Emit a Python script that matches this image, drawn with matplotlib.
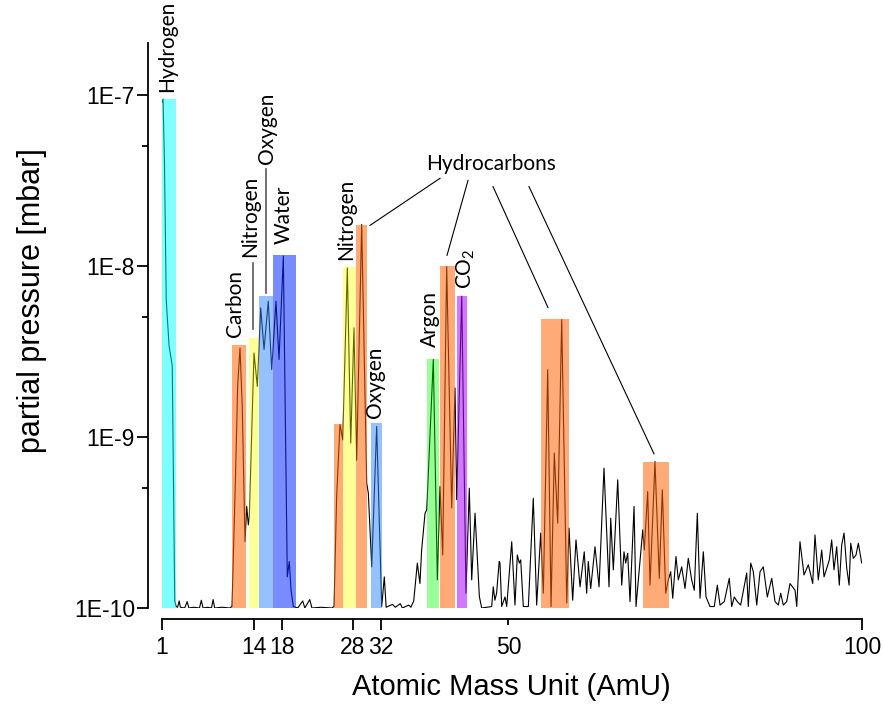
import numpy as np
import matplotlib
matplotlib.use('Agg')
import matplotlib.pyplot as plt
from matplotlib.colors import to_rgba
from matplotlib.ticker import FixedLocator, NullFormatter

# mass spectrum
amu = [1.0, 1.15, 1.35, 1.6, 2.0, 2.45, 2.8, 3.0,
       3.2, 3.43, 3.6, 4.2, 4.56, 4.8, 5.5, 6.3, 6.56, 6.8, 7.5, 8.0, 8.23, 8.45, 9.5, 10.6,
       10.9, 11.4, 11.7, 12.03, 12.35, 12.74, 12.98, 13.21, 13.35, 14.01, 14.48, 14.96,
       15.43, 16.03, 16.51, 17.12, 17.55, 18.16, 18.72, 19.0, 19.25, 19.57,
       20.2, 20.9, 21.2, 21.9, 22.2, 23.5, 25.0,
       25.33, 25.7, 26.17, 26.56, 27.21, 27.69, 28.15, 28.53, 29.24, 29.95, 30.18, 30.66,
       31.36, 32.07, 32.44, 32.7, 33.6, 34.0, 34.7, 35.0, 35.9, 36.2, 36.6,
       37.11, 37.48, 37.72, 38.2, 38.44, 39.37, 39.94, 40.32, 40.7, 41.26, 41.97, 42.44,
       42.68, 43.39, 43.99, 44.46, 44.8, 45.27, 45.88, 46.21, 47.63, 47.85, 48.08, 48.32,
       48.69, 48.8, 49.04, 49.51, 49.75, 50.46, 50.92, 51.25, 51.53, 51.73, 52.1, 52.81,
       53.51, 53.99, 54.56, 54.93, 55.55, 56.02, 56.48, 56.96, 57.53, 58.24, 58.56, 59.08,
       59.55, 60.12, 60.72, 61.06, 61.29, 61.63, 62.24, 62.81, 63.51, 64.22, 64.46, 64.83,
       65.45, 66.02, 66.34, 66.58, 66.86, 67.19, 67.76, 68.04, 68.99, 69.21, 69.69, 70.02,
       70.72, 71.33, 71.76, 72.24, 72.61, 72.94, 73.23, 73.69, 74.02, 74.5, 74.97, 75.43,
       75.91, 76.28, 76.71, 77.09, 77.56, 77.94, 78.5, 79.11, 79.54, 79.92, 80.52, 81.23,
       81.57, 81.94, 82.36, 82.84, 83.69, 83.92, 84.26, 84.63, 85.11, 85.58, 86.04, 86.61,
       87.23, 87.7, 88.16, 88.5, 88.87, 89.35, 89.82, 90.53, 90.77, 91.23, 91.8, 92.41,
       93.03, 93.35, 93.82, 94.3, 94.63, 95.01, 95.38, 95.71, 96.04, 96.42, 96.79, 97.13,
       97.46, 97.84, 98.17, 98.41, 98.77, 99.15, 99.48, 99.96]
pressure = [9.0e-8, 9.4e-8, 4.0e-8, 6.3e-9, 3.4e-9, 2.6e-9, 1.1e-10, 1.02e-10,
            1.01e-10, 1.10e-10, 1.01e-10, 1.0e-10, 1.09e-10, 1.0e-10, 1.01e-10, 1.0e-10, 1.11e-10,
            1.0e-10, 1.01e-10, 1.0e-10, 1.12e-10, 1.0e-10, 1.01e-10, 1.0e-10,
            1.02e-10, 6.0e-10, 2.0e-9, 3.3e-9, 1.5e-9, 2.44e-10, 3.92e-10, 3.06e-10, 3.42e-10,
            3.09e-9, 1.97e-9, 5.67e-9,
            3.24e-9, 6.19e-9, 2.47e-9, 6.19e-9, 2.83e-9, 1.14e-8, 1.52e-10, 1.87e-10, 1.27e-10,
            1.02e-10,
            1.0e-10, 1.1e-10, 1.0e-10, 1.12e-10, 1.0e-10, 1.01e-10, 1.0e-10,
            1.02e-10, 4.48e-10, 1.18e-9, 9.6e-10, 9.7e-9, 9.2e-10, 4.34e-9, 7.3e-10, 1.74e-8,
            5.37e-10, 4.69e-10, 1.74e-10,
            1.15e-9, 1.02e-10, 1.52e-10, 1.01e-10, 1.05e-10, 1.01e-10, 1.06e-10, 1.0e-10,
            1.04e-10, 1.01e-10, 1.1e-10,
            1.83e-10, 1.39e-10, 2.18e-10, 3.58e-10, 3.74e-10, 2.83e-9, 1.46e-10, 5.13e-10,
            2.04e-10, 9.9e-9, 3.84e-10, 1.93e-9,
            4.29e-10, 6.64e-9, 1.22e-10, 5.01e-10, 1.46e-10, 3.58e-10, 1.17e-10, 1.0e-10,
            1.02e-10, 1.33e-10, 1.11e-10, 1.22e-10,
            1.87e-10, 1.83e-10, 1.02e-10, 1.16e-10, 1.02e-10, 2.44e-10, 1.04e-10, 2.04e-10,
            1.83e-10, 1.91e-10, 1.02e-10, 1.02e-10,
            4.38e-10, 1.04e-10, 2.74e-10, 1.22e-10, 2.47e-9, 1.02e-10, 8.04e-10, 3.13e-10,
            4.84e-9, 1.07e-10, 2.93e-10, 1.11e-10,
            2.5e-10, 1.33e-10, 2.13e-10, 1.22e-10, 1.87e-10, 1.3e-10, 2.28e-10, 1.33e-10,
            6.57e-10, 1.33e-10, 3.35e-10, 1.67e-10,
            5.61e-10, 1.36e-10, 2.13e-10, 1.83e-10, 2.09e-10, 1.09e-10, 3.92e-10, 1.02e-10,
            2.86e-10, 2.18e-10, 4.79e-10, 1.36e-10,
            7.18e-10, 1.49e-10, 4.9e-10, 1.22e-10, 1.46e-10, 1.63e-10, 1.14e-10, 2.0e-10,
            1.46e-10, 1.74e-10, 1.3e-10, 1.95e-10,
            1.46e-10, 1.27e-10, 3.58e-10, 1.14e-10, 2.13e-10, 1.16e-10, 1.02e-10, 1.02e-10,
            1.36e-10, 1.04e-10, 1.09e-10, 1.49e-10,
            1.02e-10, 1.16e-10, 1.09e-10, 1.04e-10, 1.6e-10, 1.02e-10, 1.83e-10, 1.63e-10,
            1.04e-10, 1.63e-10, 1.74e-10, 1.16e-10,
            1.49e-10, 1.09e-10, 1.04e-10, 1.22e-10, 1.04e-10, 1.09e-10, 1.39e-10, 1.27e-10,
            1.02e-10, 2.44e-10, 1.56e-10, 1.79e-10,
            1.39e-10, 2.67e-10, 1.46e-10, 2.18e-10, 1.52e-10, 1.71e-10, 1.91e-10, 2.5e-10,
            1.67e-10, 2.28e-10, 1.36e-10, 2.34e-10,
            2.74e-10, 1.71e-10, 1.36e-10, 2.39e-10, 1.95e-10, 2.04e-10, 2.39e-10, 1.83e-10]

# highlighted peaks
bar_left = [1.0, 10.9, 13.35, 14.68, 16.66, 25.33, 26.56, 28.39, 30.56, 38.44, 40.36, 42.72, 54.6, 68.99]
bar_right = [3.0, 12.88, 14.68, 16.66, 19.91, 26.56, 28.39, 29.95, 32.07, 40.18, 42.44, 44.14, 58.56, 72.66]
bar_top = [9.4e-8, 3.46e-9, 3.8e-9, 6.64e-9, 1.15e-8, 1.19e-9, 9.8e-9, 1.74e-8, 1.21e-9,
           2.86e-9, 9.93e-9, 6.64e-9, 4.91e-9, 7.15e-10]
bar_kind = ['H2', 'HC', 'N', 'O', 'W', 'HC', 'N', 'HC', 'O', 'Ar', 'HC', 'CO2', 'HC', 'HC']
kind_color = {'H2': ('#00FFFF', 0.5), 'HC': ('#FF6408', 0.55), 'N': ('#FFFF00', 0.4),
              'O': ('#2D87FF', 0.5), 'W': ('#0A2EFF', 0.55), 'Ar': ('#00FF00', 0.4),
              'CO2': ('#AD0AFF', 0.55)}

# vertical labels
labels = ['Hydrogen', 'Carbon', 'Nitrogen', 'Oxygen', 'Water', 'Nitrogen', 'Oxygen', 'Argon',
          r'CO$_\mathregular{2}$']
label_x = [1.78, 11.39, 13.52, 15.85, 18.18, 27.09, 31.12, 38.9, 43.99]
label_y = [1.03e-7, 3.85e-9, 1.12e-8, 3.91e-8, 1.33e-8, 1.08e-8, 1.29e-9, 3.36e-9, 7.26e-9]

# hydrocarbons pointers
hc_start_x = [40.32, 44.28, 47.81, 52.9]
hc_start_y = [3.24e-8, 3.15e-8, 2.90e-8, 2.90e-8]
hc_end_x = [30.42, 41.31, 55.59, 70.58]
hc_end_y = [1.72e-8, 1.15e-8, 5.69e-9, 7.96e-10]

plt.rcParams['font.family'] = ['Liberation Sans', 'DejaVu Sans']

fig = plt.figure(figsize=(8.83, 7.09), dpi=100)
ax = fig.add_axes([0.18347, 0.14245, 0.79275, 0.79690])

ax.plot(amu, pressure, color='black', lw=0.8, zorder=1)

widths = np.array(bar_right) - np.array(bar_left)
heights = np.array(bar_top) - 1e-10
cols = [to_rgba(*kind_color[k]) for k in bar_kind]
ax.bar(bar_left, heights, width=widths, bottom=1e-10, align='edge', color=cols,
       linewidth=0, zorder=2)

ann_font = dict(family=['Lato', 'DejaVu Sans'], fontsize=15)
for t, x, y in zip(labels, label_x, label_y):
    ax.text(x, y, t, rotation=90, ha='center', va='bottom', clip_on=False, **ann_font)

# leader lines for the crowded labels
ax.plot([13.87, 13.87], [1.03e-8, 4.24e-9], color='0.35', lw=1.2, zorder=3)
ax.plot([15.71, 15.71], [3.66e-8, 6.97e-9], color='0.35', lw=1.2, zorder=3)

ax.text(47.53, 3.91e-8, 'Hydrocarbons', ha='center', va='center', **ann_font)
for x0, y0, x1, y1 in zip(hc_start_x, hc_start_y, hc_end_x, hc_end_y):
    ax.plot([x0, x1], [y0, y1], color='black', lw=0.8, zorder=3)

ax.set_yscale('log')
ax.set_xlim(1, 100)
ax.set_ylim(1e-10, 2e-7)

for s in ['top', 'right']:
    ax.spines[s].set_visible(False)
ax.spines['left'].set_position(('outward', 10))
ax.spines['bottom'].set_position(('outward', 8))
for s in ['left', 'bottom']:
    ax.spines[s].set_linewidth(1.3)

ax.yaxis.set_major_locator(FixedLocator([1e-10, 1e-9, 1e-8, 1e-7]))
ax.set_yticklabels(['1E-10', '1E-9', '1E-8', '1E-7'])
ax.yaxis.set_minor_locator(FixedLocator([5e-10, 5e-9, 5e-8]))
ax.yaxis.set_minor_formatter(NullFormatter())

ax.set_xticks([1, 14, 18, 28, 32, 100], ['1', '14', '18', '28', '32', '100'])
ax.set_xticks([50], ['50'], minor=True)

ax.tick_params(which='major', direction='out', length=8, width=1.3, labelsize=16.5, pad=4)
ax.tick_params(which='minor', direction='out', length=4, width=1.3, labelsize=16.5)
ax.tick_params(axis='x', which='minor', pad=8)
ax.tick_params(axis='y', which='major', pad=1.5)

ax.set_xlabel('Atomic Mass Unit (AmU)', fontsize=21)
ax.set_ylabel('partial pressure [mbar]', fontsize=22)
ax.xaxis.set_label_coords(0.4986, -0.115)
ax.yaxis.set_label_coords(-0.164, 0.545)

fig.savefig('out.png', dpi=100)
